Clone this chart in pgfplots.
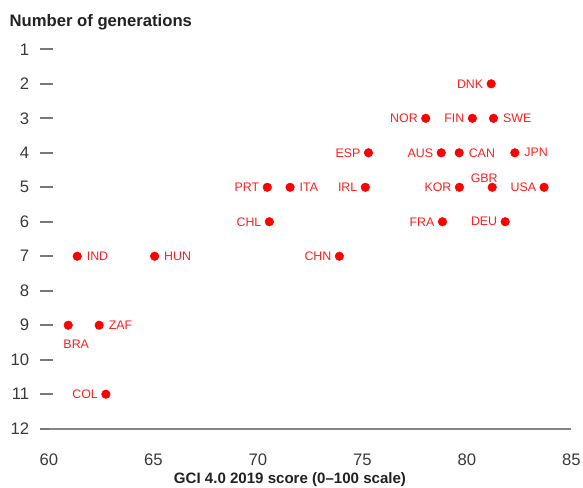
\documentclass[border=0pt]{standalone}
\usepackage{fontspec}
\setmainfont{Liberation Sans}
\usepackage{pgfplots}
\pgfplotsset{compat=1.18}
\definecolor{ptred}{HTML}{FF0000}
\definecolor{lblred}{HTML}{FF1F1F}
\definecolor{ticktext}{HTML}{3A3A3A}
\definecolor{axgrey}{HTML}{858585}
\definecolor{titletext}{HTML}{222222}

\pgfplotstableread{
x y label
81.16 2 DNK
78.03 3 NOR
80.26 3 FIN
75.29 4 ESP
78.77 4 AUS
75.14 5 IRL
79.64 5 KOR
83.69 5 USA
70.45 5 PRT
78.83 6 FRA
81.83 6 DEU
70.55 6 CHL
73.90 7 CHN
62.73 11 COL
}\leftlabels
\pgfplotstableread{
x y label
81.27 3 SWE
79.63 4 CAN
82.29 4 JPN
71.54 5 ITA
61.36 7 IND
65.06 7 HUN
62.41 9 ZAF
}\rightlabels
\pgfplotstableread{
x y label
60.93 9 BRA
}\belowlabels
\pgfplotstableread{
x y label
81.21 5 GBR
}\abovelabels

\pgfplotsset{
  pt/.style={only marks, mark=*, mark size=3.2pt, color=ptred, mark options={fill=ptred, draw=ptred},
     point meta=explicit symbolic, nodes near coords},
}
\tikzset{lbl/.style={inner sep=0pt, font=\fontsize{9.3}{10}\selectfont, text=lblred}}

\begin{document}
\begin{tikzpicture}
\begin{axis}[
  scale only axis, width=392pt, height=284.5pt,
  xmin=60, xmax=85, ymin=1, ymax=12, y dir=reverse,
  clip=false,
  axis x line*=bottom, axis y line*=left,
  x axis line style={draw=axgrey, line width=1.3pt, -},
  y axis line style={draw=none},
  xtick={60,65,...,85}, ytick={1,...,12},
  xtick style={draw=none},
  ytick style={draw=axgrey!90!black, line width=1.3pt, xshift=2.9pt},
  tick align=outside, major tick length=9.5pt,
  /pgf/number format/assume math mode=true,
  tick label style={font=\fontsize{12.5}{14}\selectfont, text=ticktext},
  yticklabel style={anchor=east, inner sep=0pt, xshift=-5pt},
  xticklabel style={anchor=north, inner sep=0pt, yshift=-9.2pt},
]
\addplot[pt, nodes near coords style={lbl, anchor=east, xshift=-5.8pt}] table[meta=label] {\leftlabels};
\addplot[pt, nodes near coords style={lbl, anchor=west, xshift=7pt}] table[meta=label] {\rightlabels};
\addplot[pt, nodes near coords style={lbl, anchor=north, xshift=6pt, yshift=-10.5pt}] table[meta=label] {\belowlabels};
\addplot[pt, nodes near coords style={lbl, anchor=south, xshift=-6pt, yshift=3.6pt}] table[meta=label] {\abovelabels};
\node[anchor=base west, inner sep=0pt, font=\bfseries\fontsize{12.5}{14}\selectfont, text=titletext]
  at ([shift={(-29.6pt,17pt)}]axis description cs:0,1) {Number of generations};
\node[anchor=south, inner sep=0pt, font=\bfseries\fontsize{11.3}{13}\selectfont, text=titletext]
  at ([shift={(180.9pt,-44pt)}]axis description cs:0,0) {GCI 4.0 2019 score (0–100 scale)};
\coordinate (O) at (axis description cs:0,0);
\end{axis}
\pgfresetboundingbox
\path[use as bounding box] ([shift={(-36.6pt,-44.5pt)}]O) rectangle ++(437.25pt,366pt);
\end{tikzpicture}
\end{document}
